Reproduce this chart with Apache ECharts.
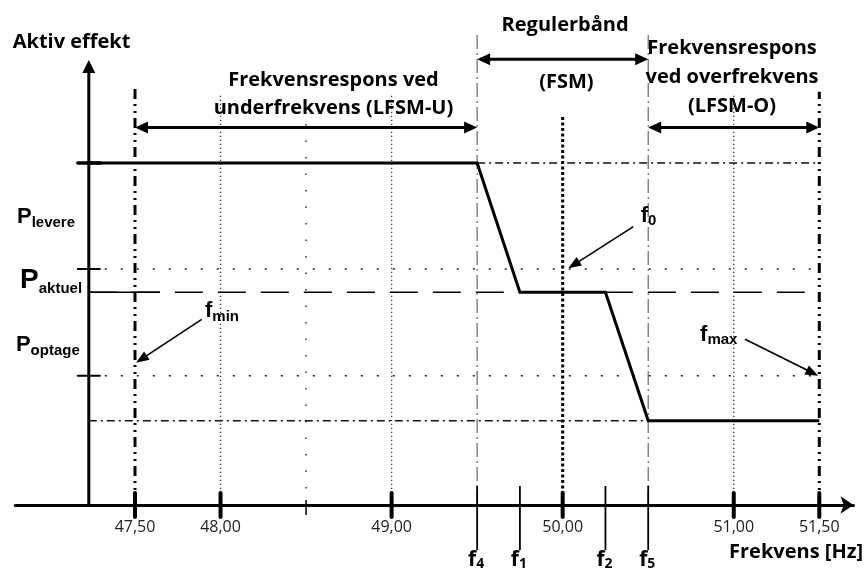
<!DOCTYPE html>
<html><head><meta charset="utf-8">
<script src="https://cdn.jsdelivr.net/npm/echarts@6/dist/echarts.min.js"></script>
<style>html,body{margin:0;padding:0;background:#fff}#c{width:867px;height:572px}</style>
</head><body><div id="c"></div>
<script>
// ---------------- data ----------------
const xTickValues = [47.5, 48, 49, 50, 51, 51.5];
const xTickLabels = ['47,50', '48,00', '49,00', '50,00', '51,00', '51,50'];
const xMinorTickValues = [48.5];
const fMarkSubs = ['4', '1', '2', '5'];
const fMarkValues = [49.5, 49.75, 50.25, 50.5];
const fMarkLabelP = [-16.1, -16.1, -16.1, -16.1];

const yAxisF = [47.23];          // frequency at which the power axis stands
const yAxisTopP = [130.1];

const curveF = [47.23, 49.5, 49.75, 50.25, 50.5, 51.5];
const curveP = [100, 100, 62.2, 62.2, 24.65, 24.65];

const yTickP = [100, 69, 37.8];
const yTickKind = ['major', 'minor', 'minor'];

const hGuideKind = ['dot', 'dot', 'dash', 'solid', 'dashdot', 'dashdot'];
const hGuideP = [69, 37.8, 62.2, 62.2, 100, 24.65];
const hGuideFrom = [47.23, 47.23, 47.23, 47.23, 49.5, 47.23];
const hGuideTo = [51.5, 51.5, 51.5, 47.646, 51.5, 50.5];

const vGuideKind = ['limit', 'limit', 'grid', 'grid', 'grid', 'sparse', 'nominal', 'band', 'band'];
const vGuideF = [47.5, 51.5, 48, 49, 51, 48.5, 50, 49.5, 50.5];
const vGuideTop = [122.2, 120.8, 119.9, 119.9, 119.9, 119.9, 113.5, 138.4, 138.4];

const spanFrom = [47.5, 49.5, 50.5];
const spanTo = [49.5, 50.5, 51.5];
const spanP = [110.4, 130.3, 110.4];

const pointerFromF = [47.89, 50.413, 51.066];
const pointerFromP = [54.3, 81.4, 48.45];
const pointerToF = [47.506, 50.033, 51.494];
const pointerToP = [41.6, 69.2, 37.8];

const titleTexts = ['Aktiv effekt', 'Frekvensrespons ved\nunderfrekvens (LFSM-U)', 'Regulerbånd', '(FSM)',
  'Frekvensrespons\nved overfrekvens\n(LFSM-O)', 'Frekvens [Hz]'];
const titleF = [46.785, 48.66, 50.014, 50.022, 50.99, 51.756];
const titleP = [135.4, 120.2, 140.4, 123.7, 125.1, -13.9];

const symMain = ['P', 'P', 'P', 'f', 'f', 'f'];
const symSub = ['levere', 'aktuel', 'optage', 'min', '0', 'max'];
const symF = [46.81, 46.828, 46.804, 47.909, 50.456, 50.803];
const symP = [84.2, 65.8, 46.8, 56.7, 84.65, 49.85];

// ---------------- styles ----------------
const TITLE_FONT = '"Open Sans", "Noto Sans", sans-serif';
const SYM_FONT = '"Liberation Sans", Arial, sans-serif';
const hStyles = {
  dot: { width: 1.5, type: [2, 14], color: '#222' },
  dash: { width: 1.5, type: [28, 15], color: '#000' },
  solid: { width: 1.5, type: 'solid', color: '#000' },
  dashdot: { width: 1.4, type: [8, 4, 2, 4], color: '#111' }
};
const vStyles = {
  limit: { width: 3, type: [10, 5, 2, 5, 2, 5], color: '#000' },
  grid: { width: 1.3, type: [1.3, 2.7], color: '#333' },
  sparse: { width: 1.5, type: [1.5, 15], color: '#333' },
  nominal: { width: 3, type: [3, 2.5], color: '#000' },
  band: { width: 1.2, type: [14, 4, 2, 4], color: '#666' }
};

const series = [];
const zip = (a, b) => a.map((v, i) => [v, b[i]]);

vGuideF.forEach((f, i) => {
  series.push({ type: 'line', symbol: 'none', silent: true, z: 2,
    data: [[f, 0], [f, vGuideTop[i]]], lineStyle: vStyles[vGuideKind[i]] });
});
hGuideP.forEach((p, i) => {
  series.push({ type: 'line', symbol: 'none', silent: true, z: 2,
    data: [[hGuideFrom[i], p], [hGuideTo[i], p]], lineStyle: hStyles[hGuideKind[i]] });
});
// main characteristic
series.push({ type: 'line', symbol: 'none', silent: true, z: 5,
  data: zip(curveF, curveP), lineStyle: { width: 3, color: '#000', join: 'miter' } });

// power axis with arrow
series.push({ type: 'custom', silent: true, z: 6, data: [[yAxisF[0], 0, yAxisTopP[0]]],
  renderItem: (params, api) => {
    const a = api.coord([api.value(0), api.value(1)]);
    const b = api.coord([api.value(0), api.value(2)]);
    return { type: 'group', children: [
      { type: 'line', shape: { x1: a[0], y1: a[1], x2: b[0], y2: b[1] + 10 }, style: { stroke: '#000', lineWidth: 3 } },
      { type: 'polygon', shape: { points: [[b[0], b[1]], [b[0] - 6.5, b[1] + 13], [b[0] + 6.5, b[1] + 13]] }, style: { fill: '#000' } }
    ] };
  } });

// power axis ticks
series.push({ type: 'custom', silent: true, z: 6, data: yTickP.map((p, i) => [yAxisF[0], p, i]),
  renderItem: (params, api) => {
    const c = api.coord([api.value(0), api.value(1)]);
    const major = yTickKind[params.dataIndex] === 'major';
    return { type: 'line', shape: { x1: c[0] - 11, y1: c[1], x2: c[0] + (major ? 12 : 11), y2: c[1] },
      style: { stroke: '#000', lineWidth: major ? 3.5 : 2, lineCap: 'round' } };
  } });

// frequency axis ticks
const xTickRows = xTickValues.map(v => [v, 0, 0])
  .concat(xMinorTickValues.map(v => [v, 0, 1]))
  .concat(fMarkValues.map(v => [v, 0, 2]));
series.push({ type: 'custom', silent: true, z: 7, data: xTickRows,
  renderItem: (params, api) => {
    const c = api.coord([api.value(0), api.value(1)]);
    const k = api.value(2);
    const up = k === 0 ? 12 : k === 1 ? 5 : 19;
    const down = k === 0 ? 12 : k === 1 ? 10 : 45;
    return { type: 'line', shape: { x1: c[0], y1: c[1] - up, x2: c[0], y2: c[1] + down },
      style: { stroke: '#000', lineWidth: k === 0 ? 4 : k === 1 ? 1.5 : 1.8, lineCap: k === 0 ? 'round' : 'butt' } };
  } });

// double-headed span arrows
series.push({ type: 'custom', silent: true, z: 6, data: spanFrom.map((f, i) => [f, spanTo[i], spanP[i]]),
  renderItem: (params, api) => {
    const a = api.coord([api.value(0), api.value(2)]);
    const b = api.coord([api.value(1), api.value(2)]);
    const L = 13, W = 6;
    return { type: 'group', children: [
      { type: 'line', shape: { x1: a[0] + L - 2, y1: a[1], x2: b[0] - L + 2, y2: b[1] }, style: { stroke: '#000', lineWidth: 3 } },
      { type: 'polygon', shape: { points: [[a[0], a[1]], [a[0] + L, a[1] - W], [a[0] + L, a[1] + W]] }, style: { fill: '#000' } },
      { type: 'polygon', shape: { points: [[b[0], b[1]], [b[0] - L, b[1] - W], [b[0] - L, b[1] + W]] }, style: { fill: '#000' } }
    ] };
  } });

// pointer arrows
series.push({ type: 'custom', silent: true, z: 6,
  data: pointerFromF.map((f, i) => [f, pointerFromP[i], pointerToF[i], pointerToP[i]]),
  renderItem: (params, api) => {
    const a = api.coord([api.value(0), api.value(1)]);
    const b = api.coord([api.value(2), api.value(3)]);
    const dx = b[0] - a[0], dy = b[1] - a[1];
    const len = Math.sqrt(dx * dx + dy * dy);
    const ux = dx / len, uy = dy / len;
    const L = 13, W = 5;
    const bx = b[0] - ux * L, by = b[1] - uy * L;
    return { type: 'group', children: [
      { type: 'line', shape: { x1: a[0], y1: a[1], x2: bx + ux * 2, y2: by + uy * 2 }, style: { stroke: '#000', lineWidth: 1.6 } },
      { type: 'polygon', shape: { points: [[b[0], b[1]], [bx - uy * W, by + ux * W], [bx + uy * W, by - ux * W]] }, style: { fill: '#000' } }
    ] };
  } });

// titles
series.push({ type: 'custom', silent: true, z: 10, data: titleF.map((f, i) => [f, titleP[i]]),
  renderItem: (params, api) => {
    const c = api.coord([api.value(0), api.value(1)]);
    const i = params.dataIndex;
    const align = i === 0 ? 'left' : i === 5 ? 'right' : 'center';
    return { type: 'text', x: c[0], y: c[1], style: {
      text: titleTexts[i], fill: '#000', fontFamily: TITLE_FONT, fontWeight: 'bold', fontSize: 20,
      lineHeight: i === 4 ? 29 : 28, align: align, verticalAlign: 'middle' } };
  } });

// P / f symbols with subscripts
series.push({ type: 'custom', silent: true, z: 10, data: symF.map((f, i) => [f, symP[i]]),
  renderItem: (params, api) => {
    const c = api.coord([api.value(0), api.value(1)]);
    const i = params.dataIndex;
    const big = i === 1 ? 28 : 22;
    return { type: 'text', x: c[0], y: c[1], style: {
      text: '{m|' + symMain[i] + '}{s|' + symSub[i] + '}', align: 'left', verticalAlign: 'middle',
      rich: {
        m: { fontFamily: SYM_FONT, fontWeight: 'bold', fontSize: big, lineHeight: big + 4, fill: '#000' },
        s: { fontFamily: SYM_FONT, fontWeight: 'bold', fontSize: 15, lineHeight: 15, verticalAlign: 'bottom', fill: '#000' }
      } } };
  } });

// f-mark labels under the axis
series.push({ type: 'custom', silent: true, z: 10, data: fMarkValues.map((f, i) => [f, fMarkLabelP[i]]),
  renderItem: (params, api) => {
    const c = api.coord([api.value(0), api.value(1)]);
    const i = params.dataIndex;
    return { type: 'text', x: c[0] - 1, y: c[1], style: {
      text: '{m|f}{s|' + fMarkSubs[i] + '}', align: 'center', verticalAlign: 'middle',
      rich: {
        m: { fontFamily: TITLE_FONT, fontWeight: 'bold', fontSize: 21, lineHeight: 22, fill: '#000' },
        s: { fontFamily: TITLE_FONT, fontWeight: 'bold', fontSize: 14, lineHeight: 14, verticalAlign: 'bottom', fill: '#000' }
      } } };
  } });

const chart = echarts.init(document.getElementById('c'));
chart.setOption({
  animation: false,
  backgroundColor: '#fff',
  grid: { left: 15.25, right: 13.5, top: 9.1, bottom: 67, containLabel: false },
  xAxis: {
    type: 'value', min: 46.8, max: 51.7,
    axisLine: { show: true, onZero: false, lineStyle: { color: '#000', width: 3 }, symbol: ['none', 'arrow'], symbolSize: [13, 13] },
    axisTick: { show: false },
    splitLine: { show: false },
    axisLabel: {
      customValues: xTickValues,
      formatter: v => { const k = xTickValues.findIndex(t => Math.abs(t - v) < 1e-6); return k >= 0 ? xTickLabels[k] : ''; },
      fontFamily: TITLE_FONT, fontSize: 16, color: '#222', margin: 14
    }
  },
  yAxis: { type: 'value', min: 0, max: 145, show: false },
  series: series
});
</script>
</body></html>
